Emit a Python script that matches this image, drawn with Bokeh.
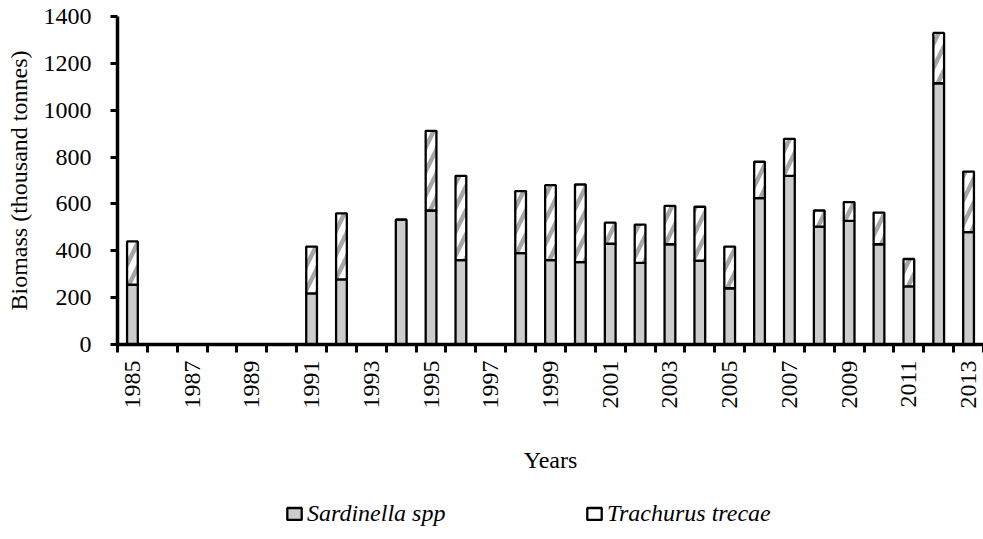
import math
from bokeh.plotting import figure
from bokeh.layouts import column
from bokeh.models import ColumnDataSource, Range1d, FixedTicker, Legend, LegendItem
from bokeh.embed import file_html
from bokeh.resources import INLINE

# ---- data (thousand tonnes) ----
years = [1985, 1991, 1992, 1994, 1995, 1996, 1998, 1999, 2000, 2001, 2002,
         2003, 2004, 2005, 2006, 2007, 2008, 2009, 2010, 2011, 2012, 2013]
sardinella = [255, 218, 278, 533, 572, 360, 390, 360, 352, 430, 348,
              428, 358, 240, 625, 720, 503, 528, 428, 248, 1115, 480]
trachurus = [185, 200, 282, 0, 340, 360, 265, 320, 331, 90, 164,
             164, 230, 178, 155, 158, 69, 80, 135, 117, 215, 258]
series_names = ["Sardinella spp", "Trachurus trecae"]
all_years = list(range(1985, 2014))
label_years = all_years[::2]
y_ticks = [0, 200, 400, 600, 800, 1000, 1200, 1400]

totals = [s + t for s, t in zip(sardinella, trachurus)]
src = ColumnDataSource(dict(x=years, s=sardinella, tot=totals))

FONT = "Liberation Serif"
GREY = "#cccccc"
HATCH = "#a6a6a6"

p = figure(width=983, height=485, output_backend="svg", toolbar_location=None,
           x_range=Range1d(1984.5, 2013.5), y_range=Range1d(0, 1400),
           min_border_left=117, min_border_right=0, min_border_top=16,
           min_border_bottom=141)
p.outline_line_color = None
p.xgrid.visible = False
p.ygrid.visible = False

r1 = p.vbar(x="x", bottom=0, top="s", width=0.36, source=src,
            fill_color=GREY, line_color="black", line_width=2.3)
r2 = p.vbar(x="x", bottom="s", top="tot", width=0.36, source=src,
            fill_color="white", line_color="black", line_width=2.3,
            hatch_pattern="/", hatch_color=HATCH, hatch_weight=4.5,
            hatch_scale=24)

# x axis
xa = p.xaxis[0]
xa.ticker = FixedTicker(ticks=label_years,
                        minor_ticks=[y - 0.5 for y in all_years] + [all_years[-1] + 0.5])
xa.major_tick_out = 0
xa.major_tick_in = 0
xa.minor_tick_out = 8
xa.minor_tick_in = 0
xa.minor_tick_line_width = 3
xa.minor_tick_line_color = "black"
xa.axis_line_width = 3.5
xa.axis_line_color = "black"
xa.major_label_orientation = math.pi / 2
xa.major_label_standoff = 8
xa.major_label_text_font = FONT
xa.major_label_text_font_size = "24px"
xa.major_label_text_color = "black"
xa.axis_label = "Years"
xa.axis_label_text_font = FONT
xa.axis_label_text_font_size = "24px"
xa.axis_label_text_font_style = "normal"
xa.axis_label_text_color = "black"
xa.axis_label_standoff = 35

# y axis
ya = p.yaxis[0]
ya.ticker = FixedTicker(ticks=y_ticks)
ya.major_tick_out = 7
ya.major_tick_in = 0
ya.major_tick_line_width = 3
ya.major_tick_line_color = "black"
ya.minor_tick_out = 0
ya.minor_tick_in = 0
ya.axis_line_width = 3.5
ya.axis_line_color = "black"
ya.major_label_standoff = 19
ya.major_label_text_font = FONT
ya.major_label_text_font_size = "24px"
ya.major_label_text_color = "black"
ya.axis_label = "Biomass (thousand tonnes)"
ya.axis_label_text_font = FONT
ya.axis_label_text_font_size = "24px"
ya.axis_label_text_font_style = "normal"
ya.axis_label_text_color = "black"
ya.axis_label_standoff = 9

# ---- legend strip (separate figure so it can sit below the axis title) ----
p2 = figure(width=983, height=54, output_backend="svg", toolbar_location=None,
            x_range=Range1d(0, 1), y_range=Range1d(0, 1),
            x_axis_location=None, y_axis_location=None,
            min_border_left=0, min_border_right=0, min_border_top=0,
            min_border_bottom=0)
p2.outline_line_color = None
p2.xgrid.visible = False
p2.ygrid.visible = False
# legend proxies (hidden renderers, only their legend swatches are shown)
l1 = p2.vbar(x="x", top="s", width=0.1, source=src, visible=False,
             fill_color=GREY, line_color="black", line_width=2.3)
l2 = p2.vbar(x="x", bottom="s", top="tot", width=0.1, source=src, visible=False,
             fill_color="white", line_color="black", line_width=2.3)

legend = Legend(items=[LegendItem(label=series_names[0], renderers=[l1]),
                       LegendItem(label=series_names[1], renderers=[l2])],
                location=(168, 12), orientation="horizontal",
                padding=0, margin=0, spacing=0,
                glyph_width=18, glyph_height=15, label_standoff=4,
                label_width=278, label_height=15, label_text_line_height=0.6,
                label_text_font=FONT, label_text_font_size="24px",
                label_text_font_style="italic", label_text_color="black",
                inactive_fill_alpha=0,
                border_line_color=None, background_fill_alpha=0)
p2.add_layout(legend)

open("out.html", "w").write(file_html(column(p, p2, spacing=0), INLINE))
